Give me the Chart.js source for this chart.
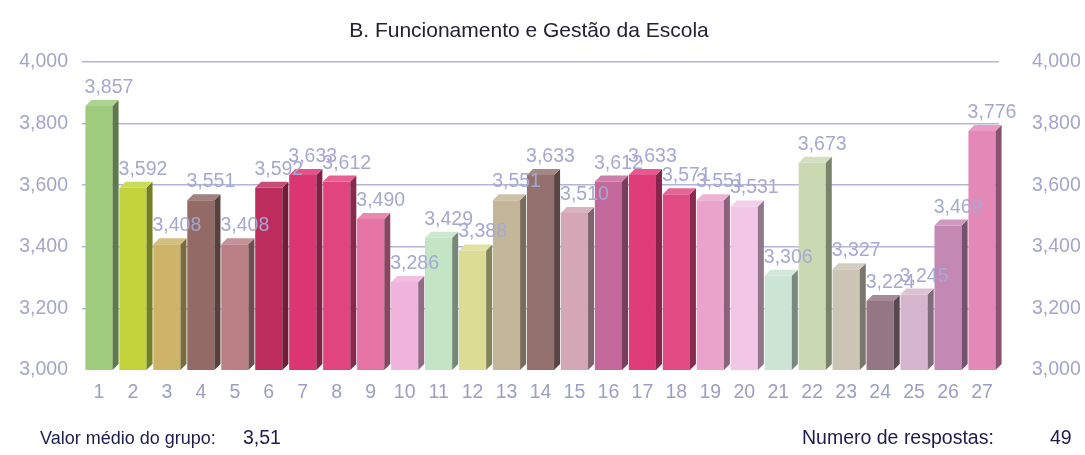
<!DOCTYPE html>
<html lang="pt">
<head>
    <meta charset="UTF-8">
    <title>B. Funcionamento e Gestão da Escola</title>
    <style>
        body {
            margin: 0;
            padding: 0;
            background: #ffffff;
            font-family: "Liberation Sans", Arial, sans-serif;
        }
        .wrap {
            position: relative;
            width: 1085px;
            height: 455px;
        }
        .title {
            position: absolute;
            top: 18px;
            left: 279px;
            width: 500px;
            text-align: center;
            font-size: 21px;
            color: #222233;
        }
        .note {
            position: absolute;
            top: 426px;
            font-size: 19.5px;
            color: #1c1c4e;
        }
    </style>
</head>
<body>
    <div class="wrap">
        <canvas id="chart" width="1085" height="455"></canvas>
        <div class="title">B. Funcionamento e Gestão da Escola</div>
        <div class="note" style="left:40px; font-size:18px; top:428px">Valor médio do grupo:</div>
        <div class="note" style="left:243px">3,51</div>
        <div class="note" style="left:802px">Numero de respostas:</div>
        <div class="note" style="left:1050px">49</div>
    </div>
    <script src="https://cdn.jsdelivr.net/npm/chart.js"></script>
    <script>
        const categories = ['1', '2', '3', '4', '5', '6', '7', '8', '9', '10', '11', '12', '13', '14',
                            '15', '16', '17', '18', '19', '20', '21', '22', '23', '24', '25', '26', '27'];
        const values = [3.857, 3.592, 3.408, 3.551, 3.408, 3.592, 3.633, 3.612, 3.490, 3.286,
                        3.429, 3.388, 3.551, 3.633, 3.510, 3.612, 3.633, 3.571, 3.551, 3.531,
                        3.306, 3.673, 3.327, 3.224, 3.245, 3.469, 3.776];
        const yTicks = [3.0, 3.2, 3.4, 3.6, 3.8, 4.0];
        const barColors = ['#9fcb7c', '#c2d33c', '#cdb468', '#936a66', '#bb7f86', '#bc2d5e', '#dc3574',
                           '#e2447f', '#e574a4', '#f0b4dc', '#c4e4c6', '#dcdc94', '#c4b698', '#94716f',
                           '#d4a6b6', '#c3689a', '#e13c7a', '#e24a84', '#eaa4cc', '#f2c6e6', '#cbe4d4',
                           '#cbd9b2', '#ccc4b4', '#957684', '#d6b6ce', '#c488b4', '#e488b8'];

        const fmt = v => v.toFixed(3).replace('.', ',');
        const DEPTH = 6;
        const FONT = '"Liberation Sans", Arial, sans-serif';

        // darken / lighten a hex colour
        function shade(hex, amt) {
            const n = parseInt(hex.slice(1), 16);
            let r = n >> 16, g = (n >> 8) & 255, b = n & 255;
            const f = c => Math.max(0, Math.min(255, Math.round(amt < 0 ? c * (1 + amt) : c + (255 - c) * amt)));
            return `rgb(${f(r)},${f(g)},${f(b)})`;
        }

        // side and top faces for a 3D look, plus the value labels
        const bar3d = {
            id: 'bar3d',
            afterDatasetsDraw(chart) {
                const ctx = chart.ctx;
                const meta = chart.getDatasetMeta(0);
                const base = chart.chartArea.bottom;
                ctx.save();
                meta.data.forEach((bar, i) => {
                    const p = bar.getProps(['x', 'y', 'width'], true);
                    const l = p.x - p.width / 2, r = p.x + p.width / 2;
                    ctx.fillStyle = shade(barColors[i], -0.4);
                    ctx.beginPath();
                    ctx.moveTo(r, p.y);
                    ctx.lineTo(r + DEPTH, p.y - DEPTH);
                    ctx.lineTo(r + DEPTH, base - DEPTH);
                    ctx.lineTo(r, base);
                    ctx.closePath();
                    ctx.fill();
                    ctx.fillStyle = shade(barColors[i], 0.15);
                    ctx.beginPath();
                    ctx.moveTo(l, p.y);
                    ctx.lineTo(l + DEPTH, p.y - DEPTH);
                    ctx.lineTo(r + DEPTH, p.y - DEPTH);
                    ctx.lineTo(r, p.y);
                    ctx.closePath();
                    ctx.fill();
                });
                ctx.font = '19.5px ' + FONT;
                ctx.fillStyle = '#a5a8d0';
                ctx.textAlign = 'center';
                ctx.textBaseline = 'alphabetic';
                meta.data.forEach((bar, i) => {
                    ctx.fillText(fmt(values[i]), bar.x + 10, bar.y - 13);
                });
                ctx.restore();
            }
        };

        new Chart(document.getElementById('chart'), {
            type: 'bar',
            data: {
                labels: categories,
                datasets: [{
                    data: values,
                    backgroundColor: barColors,
                    borderWidth: 0,
                    barPercentage: 0.8,
                    categoryPercentage: 1.0
                }]
            },
            options: {
                responsive: false,
                animation: false,
                layout: { padding: { top: 62, bottom: 0, left: 0, right: 0 } },
                plugins: {
                    legend: { display: false },
                    tooltip: { enabled: false },
                    title: { display: false }
                },
                scales: {
                    x: {
                        grid: { display: false },
                        border: { display: false },
                        ticks: {
                            color: '#9c9ec4',
                            font: { family: FONT, size: 19.5 },
                            padding: 3
                        },
                        afterFit: s => { s.height = 85; }
                    },
                    y: {
                        position: 'left',
                        min: 3.0,
                        max: 4.0,
                        afterBuildTicks: s => { s.ticks = yTicks.map(v => ({ value: v })); },
                        grid: {
                            color: ctx => ctx.tick && ctx.tick.value === 3.0 ? 'rgba(0,0,0,0)' : '#b4b4d8',
                            lineWidth: 1.5,
                            drawTicks: false
                        },
                        border: { display: false },
                        ticks: {
                            color: '#a3a6cc',
                            font: { family: FONT, size: 19.5 },
                            padding: 14,
                            callback: v => fmt(v)
                        },
                        afterFit: s => { s.width = 82; }
                    },
                    y2: {
                        position: 'right',
                        min: 3.0,
                        max: 4.0,
                        afterBuildTicks: s => { s.ticks = yTicks.map(v => ({ value: v })); },
                        grid: { display: false },
                        border: { display: false },
                        ticks: {
                            color: '#a3a6cc',
                            font: { family: FONT, size: 19.5 },
                            padding: 25,
                            callback: v => fmt(v)
                        },
                        afterFit: s => { s.width = 86; }
                    }
                }
            },
            plugins: [bar3d]
        });
    </script>
</body>
</html>
